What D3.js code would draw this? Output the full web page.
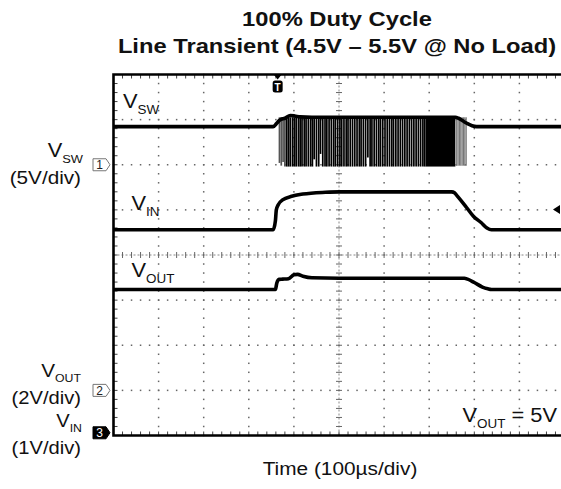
<!DOCTYPE html>
<html><head><meta charset="utf-8">
<script src="https://cdn.jsdelivr.net/npm/d3@7"></script>
<style>body{margin:0;background:#fff}svg{display:block}text{font-family:"Liberation Sans",Arial,sans-serif}</style>
</head><body>
<svg id="c" width="561" height="489"></svg>
<script>
// ---------------- data ----------------
const titleLines = ["100% Duty Cycle", "Line Transient (4.5V \u2013 5.5V @ No Load)"];
const xLabel = "Time (100\u00b5s/div)";
const timeDomain = [-500, 500];      // µs, 100 µs/div, 10 div
const levelDomain = [-4, 4];         // screen divisions
const channelNames = ["SW", "IN", "OUT"];
const channelScales = ["(5V/div)", "(1V/div)", "(2V/div)"];
const voltsPerDiv = [5, 1, 2];
const groundDiv = [2, -3.94, -3];
const triggerTime = -136;            // µs
const triggerLevel = 4.95;           // V on VIN
const vswHigh = 5.26;                // V, switching node high level
const vswTime  = [-500, -146, -138, -131, -120, -108, -98, -86, -60, 0, 258, 265, 275, 285, 295, 305, 500];
const vswVolts = [4.22, 4.22, 4.6, 4.96, 5.15, 5.45, 5.4, 5.3, 5.26, 5.26, 5.26, 5.15, 4.85, 4.55, 4.32, 4.22, 4.22];
const vinTime  = [-500, -146, -141, -139, -135, -125, -105, -80, -30, 0, 250, 256, 262, 280, 298, 315, 328, 338, 500];
const vinVolts = [4.50, 4.50, 4.7, 4.94, 5.05, 5.16, 5.24, 5.29, 5.33, 5.34, 5.34, 5.32, 5.25, 5.03, 4.80, 4.66, 4.54, 4.50, 4.50];
const voutTime  = [-500, -141, -138, -133, -125, -112, -100, -92, -80, -60, 0, 278, 285, 300, 318, 330, 338, 500];
const voutVolts = [4.47, 4.47, 4.75, 4.92, 4.93, 4.95, 5.12, 5.14, 5.06, 4.99, 4.97, 4.97, 4.93, 4.78, 4.58, 4.50, 4.47, 4.47];
const spikeTimes = [-132, -128, -124, -120, -116, -112, -108, -103, -99, -95, -90, -86, -82, -77, -73, -68, -63, -59, -55, -50,
  -45, -41, -36, -31, -27, -22, -17, -12, -8, -3, 2, 6, 11, 16, 20, 25, 30, 35, 40, 45,
  49, 54, 59, 64, 69, 73, 78, 83, 88, 92, 97, 102, 107, 112, 117, 121, 126, 131, 136, 141,
  146, 151, 156, 161, 166, 171, 176, 181, 186, 190];
const spikeLows = [0.2, -0.1, 0.3, -0.2, -0.2, -0.2, -0.2, -0.2, -0.2, -0.2, -0.2, -0.2, -0.2, -0.2, -0.2, -0.2, -0.2, -0.2, 0.6, -0.2,
  -0.2, 1.2, -0.2, -0.2, -0.2, -0.2, -0.2, -0.2, -0.2, -0.2, -0.2, -0.2, -0.2, -0.2, -0.2, -0.2, -0.2, -0.2, -0.2, -0.2,
  -0.2, -0.2, -0.2, 0.8, -0.2, -0.2, -0.2, -0.2, -0.2, -0.2, -0.2, -0.2, -0.2, -0.2, -0.2, -0.2, -0.2, -0.2, -0.2, -0.2,
  -0.2, -0.2, -0.2, -0.2, -0.2, -0.2, -0.2, -0.2, -0.2, -0.2];
const burstStart = 192, burstEnd = 258;
const tailSpikeTimes = [261, 264, 267, 270, 273, 276, 279, 282];

// ---------------- drawing ----------------
const SX = 1.12;
const svg = d3.select("#c");
const x = d3.scaleLinear().domain(timeDomain).range([113.5, 564.5]);
const y = d3.scaleLinear().domain(levelDomain).range([435.5, 74.5]);
const toDiv = (ch, v) => v / voltsPerDiv[ch] + groundDiv[ch];

svg.append("rect").attr("width", 561).attr("height", 489).attr("fill", "#fff");

// grid
const minorX = d3.range(timeDomain[0], timeDomain[1] + 0.1, 20);
const minorY = d3.range(levelDomain[0], levelDomain[1] + 0.001, 0.2);
const majorX = d3.range(-400, 401, 100).filter(d => d !== 0);
const majorY = d3.range(-3, 3.01, 1).filter(d => d !== 0);
const grid = svg.append("g");
grid.selectAll(".gv").data(d3.cross(majorX, minorY)).join("rect")
  .attr("x", d => x(d[0]) - 0.75).attr("y", d => y(d[1]) - 0.75)
  .attr("width", 1.5).attr("height", 1.5).attr("fill", "#666");
grid.selectAll(".gh").data(d3.cross(minorX, majorY)).join("rect")
  .attr("x", d => x(d[0]) - 0.75).attr("y", d => y(d[1]) - 0.75)
  .attr("width", 1.5).attr("height", 1.5).attr("fill", "#666");
// center crosshair
grid.append("line").attr("x1", x(timeDomain[0])).attr("x2", x(timeDomain[1]))
  .attr("y1", y(0)).attr("y2", y(0)).attr("stroke", "#888").attr("stroke-width", 1).attr("stroke-dasharray", "2,2");
grid.append("line").attr("y1", y(levelDomain[0])).attr("y2", y(levelDomain[1]))
  .attr("x1", x(0)).attr("x2", x(0)).attr("stroke", "#888").attr("stroke-width", 1).attr("stroke-dasharray", "2,2");
grid.selectAll(".cx").data(minorX).join("line")
  .attr("x1", d => x(d)).attr("x2", d => x(d)).attr("y1", y(0) - 3).attr("y2", y(0) + 3)
  .attr("stroke", "#666").attr("stroke-width", 1);
grid.selectAll(".cy").data(minorY).join("line")
  .attr("y1", d => y(d)).attr("y2", d => y(d)).attr("x1", x(0) - 3).attr("x2", x(0) + 3)
  .attr("stroke", "#666").attr("stroke-width", 1);
// border ticks
grid.selectAll(".bl").data(minorY).join("line")
  .attr("y1", d => y(d)).attr("y2", d => y(d)).attr("x1", x(timeDomain[0])).attr("x2", x(timeDomain[0]) + 4)
  .attr("stroke", "#444").attr("stroke-width", 1);
grid.selectAll(".bt").data(minorX).join("line")
  .attr("x1", d => x(d)).attr("x2", d => x(d)).attr("y1", y(levelDomain[1])).attr("y2", y(levelDomain[1]) + 4)
  .attr("stroke", "#444").attr("stroke-width", 1);
grid.selectAll(".bb").data(minorX).join("line")
  .attr("x1", d => x(d)).attr("x2", d => x(d)).attr("y1", y(levelDomain[0])).attr("y2", y(levelDomain[0]) - 4)
  .attr("stroke", "#444").attr("stroke-width", 1);

// switching spikes (VSW channel)
const sw = svg.append("g");
sw.append("rect").attr("x", x(burstStart)).attr("width", x(burstEnd) - x(burstStart))
  .attr("y", y(toDiv(0, vswHigh))).attr("height", y(toDiv(0, -0.2)) - y(toDiv(0, vswHigh))).attr("fill", "#000");
sw.selectAll(".sp").data(spikeTimes).join("line")
  .attr("x1", d => x(d)).attr("x2", d => x(d))
  .attr("y1", y(toDiv(0, vswHigh))).attr("y2", (d, i) => y(toDiv(0, spikeLows[i])))
  .attr("stroke", (d, i) => i < 4 ? "#555" : "#000").attr("stroke-width", 1.7);
sw.selectAll(".tsp").data(tailSpikeTimes).join("line")
  .attr("x1", d => x(d)).attr("x2", d => x(d))
  .attr("y1", y(toDiv(0, vswHigh))).attr("y2", y(toDiv(0, -0.1)))
  .attr("stroke", "#777").attr("stroke-width", 1.2);

// traces
const traces = [[vswTime, vswVolts, 0], [vinTime, vinVolts, 1], [voutTime, voutVolts, 2]];
const line = d3.line().x(d => x(d[0])).y(d => y(d[1])).curve(d3.curveMonotoneX);
svg.selectAll(".trace").data(traces).join("path")
  .attr("d", ([t, v, ch]) => line(t.map((tt, i) => [tt, toDiv(ch, v[i])])))
  .attr("fill", "none").attr("stroke", "#000").attr("stroke-width", 3.6).attr("stroke-linejoin", "round");

// frame
const fr = svg.append("g").attr("stroke", "#000").attr("stroke-width", 2.6).attr("fill", "none");
fr.append("path").attr("d", `M${x(timeDomain[1])},${y(levelDomain[1])}H${x(timeDomain[0])}V${y(levelDomain[0])}H${x(timeDomain[1])}`);

// trigger marker (top)
const tx = x(triggerTime), ty = y(levelDomain[1]);
svg.append("path").attr("d", `M${tx - 4},${ty}L${tx + 4},${ty}L${tx},${ty + 5}Z`).attr("fill", "#000");
svg.append("rect").attr("x", tx - 5).attr("y", ty + 6).attr("width", 10).attr("height", 12).attr("rx", 2.5).attr("fill", "#000");
svg.append("text").attr("x", tx).attr("y", ty + 16).attr("text-anchor", "middle").attr("fill", "#fff")
  .attr("font-size", 10).attr("font-weight", "bold").text("T");
// trigger level marker (right)
const ly = y(toDiv(1, triggerLevel));
svg.append("path").attr("d", `M553,${ly}L560,${ly - 4.5}L560,${ly + 4.5}Z`).attr("fill", "#000");

// channel ground markers (left)
function chMarker(yy, label, filled) {
  const g = svg.append("g");
  g.append("path").attr("d", `M93,${yy - 6}H106L110,${yy}L106,${yy + 6}H93Z`)
    .attr("fill", filled ? "#000" : "#fff").attr("stroke", filled ? "#000" : "#777").attr("stroke-width", 1);
  g.append("text").attr("x", 99.5).attr("y", yy + 4.5).attr("text-anchor", "middle")
    .attr("font-size", 12).attr("font-family", "DejaVu Serif, serif").attr("fill", filled ? "#fff" : "#222").text(label);
}
chMarker(y(groundDiv[0]), "1", false);
chMarker(y(groundDiv[2]), "2", false);
chMarker(y(groundDiv[1]), "3", true);

// label helper: V with subscript
function vLabel(px, py, sub, opts = {}) {
  const size = opts.size || 19.5, subSize = opts.subSize || 12, anchor = opts.anchor || "start";
  const t = svg.append("text").attr("transform", `translate(${px},${py}) scale(${SX},1)`)
    .attr("text-anchor", anchor).attr("fill", "#111");
  t.append("tspan").attr("font-size", size).text("V");
  t.append("tspan").attr("font-size", subSize).attr("dy", opts.subDy || 6).text(sub);
  if (opts.tail) t.append("tspan").attr("font-size", size).attr("dy", -6).text(opts.tail);
  return t;
}
function plain(px, py, str, size, anchor, weight, sx) {
  return svg.append("text").attr("transform", `translate(${px},${py}) scale(${sx || SX},1)`)
    .attr("text-anchor", anchor).attr("font-size", size).attr("font-weight", weight || "normal")
    .attr("fill", "#111").text(str);
}

// in-plot trace labels
vLabel(123, 108, channelNames[0]);
vLabel(131.5, 210, channelNames[1]);
vLabel(131.5, 276.5, channelNames[2]);
vLabel(462.5, 421.5, channelNames[2], { tail: " = 5V" });

// left channel labels
vLabel(83, 157, channelNames[0], { anchor: "end", subSize: 11.5 });
plain(81, 184, channelScales[0], 18.5, "end");
vLabel(81, 377, channelNames[2], { anchor: "end", size: 18.5, subSize: 11, subDy: 5 });
plain(81, 403.5, channelScales[2], 18, "end");
vLabel(82, 427, channelNames[1], { anchor: "end", size: 18, subSize: 11, subDy: 5 });
plain(81, 454, channelScales[1], 18, "end");

// titles
plain(337, 26, titleLines[0], 21, "middle", "bold", 1.13);
plain(337, 53, titleLines[1], 21, "middle", "bold", 1.13);
plain(340, 475, xLabel, 18.6, "middle");
</script>
</body></html>
